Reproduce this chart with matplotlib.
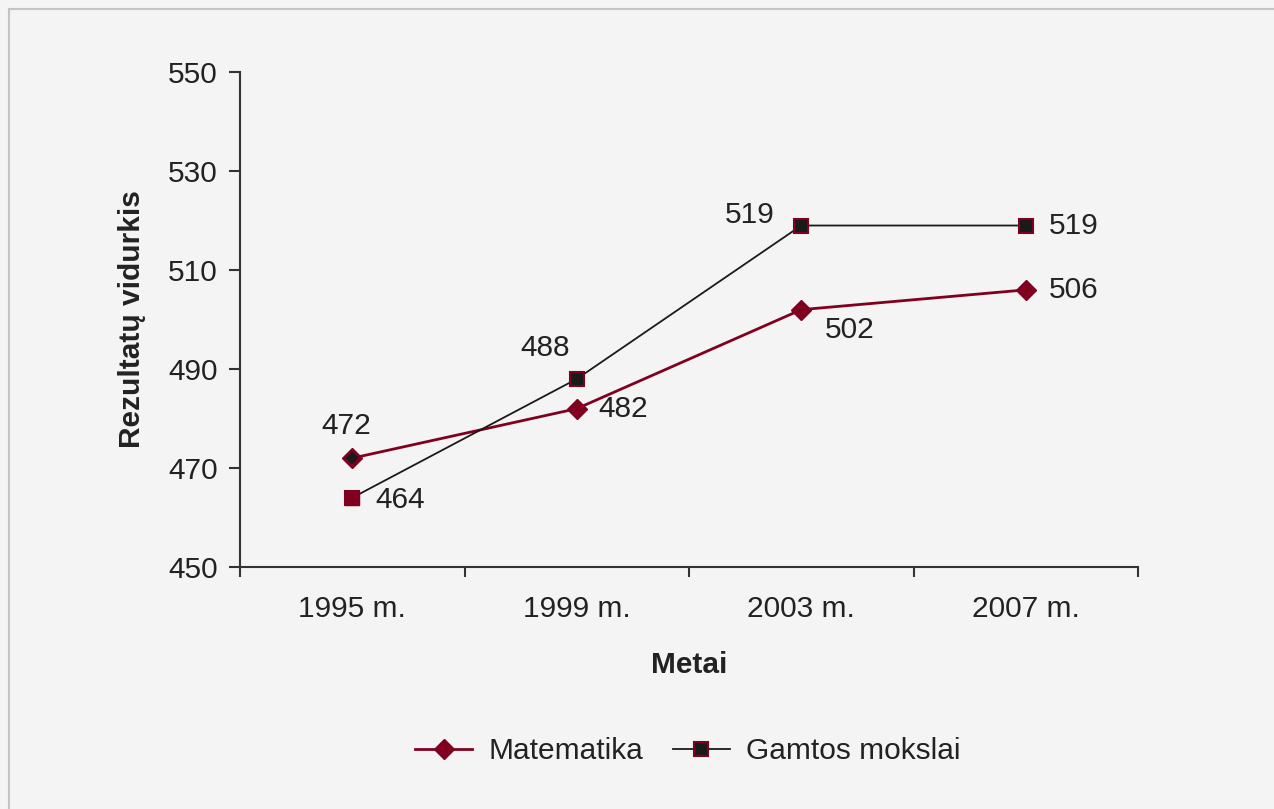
import matplotlib.pyplot as plt
from matplotlib.patches import Rectangle

years = ['1995 m.', '1999 m.', '2003 m.', '2007 m.']
matematika = [472, 482, 502, 506]
gamtos = [464, 488, 519, 519]

# label offsets in pixels (dx, dy)
mat_off = [(-6, 32), (46, 0), (48, -20), (48, 0)]
gam_off = [(48, -2), (-32, 31), (-52, 11), (48, 0)]

red = '#800020'
dark = '#1a1a1a'
fs = 21.5

plt.rcParams['font.family'] = ['Liberation Sans', 'DejaVu Sans']
fig = plt.figure(figsize=(12.74, 8.09), dpi=100, facecolor='#f4f4f4')
fig.patches.append(Rectangle((9 / 1274, -0.1), 1.2, 1 - 9 / 809 + 0.1, transform=fig.transFigure,
                             fill=False, edgecolor='#c4c4c4', linewidth=1.5))
ax = fig.add_axes([0.1884, 0.2991, 0.7049, 0.6118])
ax.set_facecolor('#f4f4f4')

x = list(range(len(years)))
ax.plot(x, matematika, color=red, linewidth=2, marker='D', markersize=10,
        markerfacecolor=red, markeredgecolor=red, label='Matematika', zorder=3)
ax.plot(x, gamtos, color=dark, linewidth=1.3, marker='s', markersize=10,
        markerfacecolor=dark, markeredgecolor=red, markeredgewidth=1.5,
        label='Gamtos mokslai', zorder=3)
# first points have swapped colours in the original
ax.plot(x[0], matematika[0], marker='D', markersize=8, markerfacecolor=dark,
        markeredgecolor=red, markeredgewidth=1.5, zorder=4)
ax.plot(x[0], gamtos[0], marker='s', markersize=10, markerfacecolor=red,
        markeredgecolor=red, zorder=4)

for i in x:
    ax.annotate(str(matematika[i]), (i, matematika[i]), xytext=mat_off[i],
                textcoords='offset pixels', ha='center', va='center',
                fontsize=fs, color='#222222')
    ax.annotate(str(gamtos[i]), (i, gamtos[i]), xytext=gam_off[i],
                textcoords='offset pixels', ha='center', va='center',
                fontsize=fs, color='#222222')

ax.set_xlim(-0.5, 3.5)
ax.set_ylim(450, 550)
ax.set_yticks(range(450, 551, 20))
ax.set_xticks([i + 0.5 for i in range(-1, 4)], minor=False)
ax.set_xticklabels([])
ax.set_xticks(x, minor=True)
ax.set_xticklabels(years, minor=True)
ax.tick_params(axis='x', which='major', length=7, width=1.5, color='#333333')
ax.tick_params(axis='x', which='minor', length=0, pad=20, labelsize=fs, labelcolor='#222222')
ax.tick_params(axis='y', length=8, width=1.5, color='#333333', pad=8, labelsize=fs, labelcolor='#222222')

for s in ['top', 'right']:
    ax.spines[s].set_visible(False)
for s in ['left', 'bottom']:
    ax.spines[s].set_linewidth(1.5)
    ax.spines[s].set_color('#333333')

ax.set_ylabel('Rezultatų vidurkis', fontsize=fs, fontweight='bold', color='#222222', labelpad=16)
ax.set_xlabel('Metai', fontsize=fs, fontweight='bold', color='#222222', labelpad=20)

leg = fig.legend(loc='center', bbox_to_anchor=(688 / 1274, 1 - 751 / 809), ncol=2, frameon=False,
                 fontsize=fs, handlelength=1.9, columnspacing=1.0, handletextpad=0.55)
for t in leg.get_texts():
    t.set_color('#222222')

fig.savefig('out.png', dpi=100, facecolor=fig.get_facecolor())
